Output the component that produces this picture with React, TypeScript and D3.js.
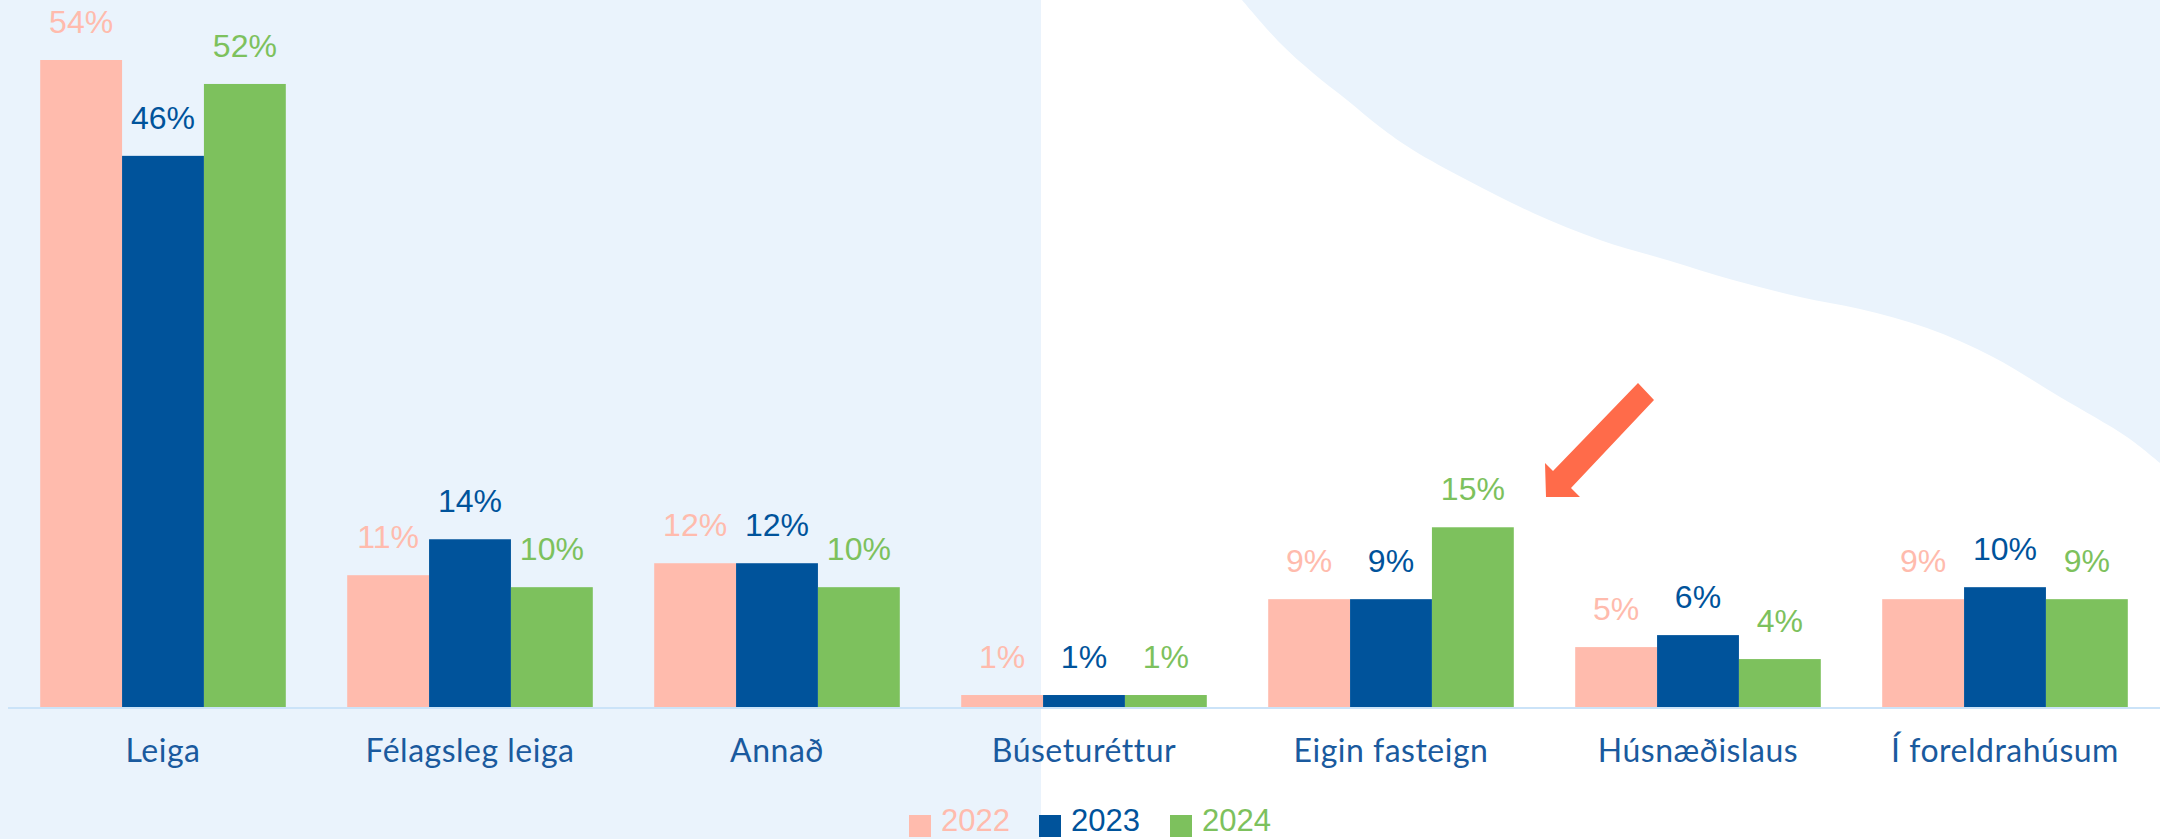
import React from "react";
import * as d3 from "d3";

const categories = ["Leiga", "Félagsleg leiga", "Annað", "Búseturéttur", "Eigin fasteign", "Húsnæðislaus", "Í foreldrahúsum"];
const years = ["2022", "2023", "2024"];
const values2022 = [54, 11, 12, 1, 9, 5, 9];
const values2023 = [46, 14, 12, 1, 9, 6, 10];
const values2024 = [52, 10, 10, 1, 15, 4, 9];
const seriesValues = [values2022, values2023, values2024];
const colors = ["#FFBBAD", "#00539B", "#7DC15D"];

const W = 2160;
const H = 839;
const BG = "#EAF3FC";

// decorative background curve (layout geometry)
const curvePts: [number, number][] = [
  [1242, 0], [1280, 43], [1313, 73], [1347, 100], [1380, 127], [1413, 150],
  [1467, 180], [1533, 213], [1600, 240], [1667, 260], [1733, 280], [1800, 297],
  [1860, 309], [1927, 328], [1993, 357], [2060, 397], [2127, 437], [2160, 463],
];

export default function App() {
  const x0 = d3.scaleBand<string>().domain(categories).range([9.5, 2158.5]).paddingInner(0.2).paddingOuter(0.1);
  const x1 = d3.scaleBand<string>().domain(years).range([0, x0.bandwidth()]);
  const y = d3.scaleLinear().domain([0, 54]).range([707, 60]);

  const line = d3.line().curve(d3.curveCatmullRom.alpha(0.5));
  const curvePath = line(curvePts) + ` L${W},0 Z`;

  const arrowPts = [[1638, 383], [1654, 400], [1571, 488], [1580, 497], [1546, 497], [1545, 463], [1553, 471]];

  const legendX = [909, 1039, 1170];

  return (
    <svg width={W} height={H} style={{ position: "absolute", left: 0, top: 0 }}>
      <rect x={0} y={0} width={W} height={H} fill="#ffffff" />
      <rect x={0} y={0} width={1041} height={H} fill={BG} />
      <path d={curvePath} fill={BG} />

      {categories.map((c, i) => (
        <g key={c} transform={`translate(${x0(c)},0)`}>
          {years.map((yr, s) => {
            const v = seriesValues[s][i];
            const bx = x1(yr)!;
            return (
              <g key={yr}>
                <rect x={bx} y={y(v)} width={x1.bandwidth()} height={y(0) - y(v)} fill={colors[s]} />
                <text
                  x={bx + x1.bandwidth() / 2}
                  y={y(v) - 27}
                  textAnchor="middle"
                  fill={colors[s]}
                  fontFamily="'Liberation Sans', Arial, sans-serif"
                  fontSize={32}
                >
                  {v}%
                </text>
              </g>
            );
          })}
          <text
            x={x0.bandwidth() / 2}
            y={762}
            textAnchor="middle"
            fill="#1A5A9E"
            fontFamily="Lato, sans-serif"
            fontWeight={400}
            fontSize={32}
            letterSpacing={0.5}
          >
            {c}
          </text>
        </g>
      ))}

      <line x1={8} x2={W} y1={708} y2={708} stroke="#CBE3F8" strokeWidth={2} />

      <polygon points={arrowPts.map((p) => p.join(",")).join(" ")} fill="#FF6B4A" />

      {years.map((yr, s) => (
        <g key={yr} transform={`translate(${legendX[s]},0)`}>
          <rect x={0} y={815} width={22} height={22} fill={colors[s]} />
          <text x={32} y={831} fill={colors[s]} fontFamily="'Liberation Sans', Arial, sans-serif" fontSize={31}>
            {yr}
          </text>
        </g>
      ))}
    </svg>
  );
}
